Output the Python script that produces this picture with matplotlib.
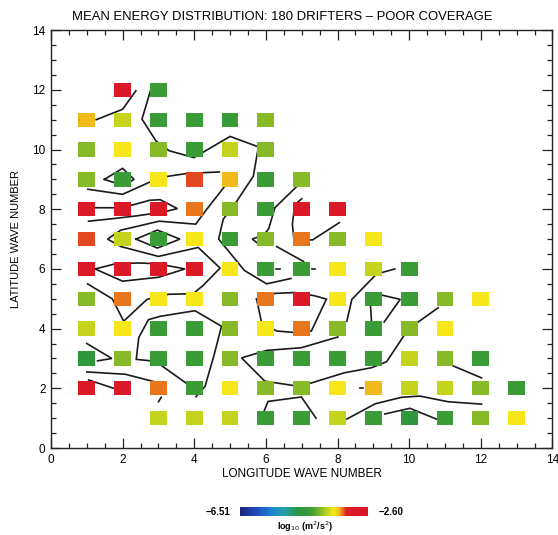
import numpy as np
import matplotlib
matplotlib.use('Agg')
import matplotlib.pyplot as plt
from matplotlib.colors import LinearSegmentedColormap, Normalize
from matplotlib.patches import Rectangle
from matplotlib.ticker import MultipleLocator

plt.rcParams['font.family'] = ['Liberation Sans', 'DejaVu Sans']

# energy levels (log10 m^2/s^2) used for the grid cells
RED, ORNRED, ORANGE, GOLD = -2.95, -3.32, -3.38, -3.50
YEL, YELGRN, LTGRN, GRN, DKGRN = -3.66, -3.85, -4.05, -4.36, -4.63

VMIN, VMAX = -6.51, -2.60

# one list per latitude wave number: (longitude wave number, log10 energy)
row12 = [(2, RED), (3, GRN)]
row11 = [(1, GOLD), (2, YELGRN), (3, GRN), (4, GRN), (5, GRN), (6, LTGRN)]
row10 = [(1, LTGRN), (2, YEL), (3, LTGRN), (4, GRN), (5, YELGRN), (6, LTGRN)]
row9 = [(1, LTGRN), (2, GRN), (3, YEL), (4, ORNRED), (5, GOLD), (6, GRN), (7, LTGRN)]
row8 = [(1, RED), (2, RED), (3, RED), (4, ORANGE), (5, LTGRN), (6, GRN),
        (7, RED), (8, RED)]
row7 = [(1, ORNRED), (2, YELGRN), (3, GRN), (4, YEL), (5, GRN), (6, LTGRN),
        (7, ORANGE), (8, LTGRN), (9, YEL)]
row6 = [(1, RED), (2, RED), (3, RED), (4, RED), (5, YEL), (6, GRN), (7, GRN),
        (8, YEL), (9, YELGRN), (10, GRN)]
row5 = [(1, LTGRN), (2, ORANGE), (3, YEL), (4, YEL), (5, LTGRN), (6, ORANGE),
        (7, RED), (8, YEL), (9, GRN), (10, GRN), (11, LTGRN), (12, YEL)]
row4 = [(1, YELGRN), (2, YEL), (3, GRN), (4, GRN), (5, LTGRN), (6, YEL),
        (7, ORANGE), (8, LTGRN), (9, GRN), (10, LTGRN), (11, YEL)]
row3 = [(1, DKGRN), (2, LTGRN), (3, GRN), (4, GRN), (5, LTGRN), (6, GRN),
        (7, GRN), (8, GRN), (9, GRN), (10, YELGRN), (11, LTGRN), (12, GRN)]
row2 = [(1, RED), (2, RED), (3, ORANGE), (4, GRN), (5, YEL), (6, LTGRN),
        (7, LTGRN), (8, YEL), (9, GOLD), (10, YELGRN), (11, YELGRN),
        (12, LTGRN), (13, GRN)]
row1 = [(3, YELGRN), (4, YELGRN), (5, YELGRN), (6, GRN), (7, GRN), (8, YELGRN),
        (9, GRN), (10, DKGRN), (11, GRN), (12, LTGRN), (13, YEL)]

rows = {12: row12, 11: row11, 10: row10, 9: row9, 8: row8, 7: row7,
        6: row6, 5: row5, 4: row4, 3: row3, 2: row2, 1: row1}

# energy contours (longitude, latitude)
contours = [
    [(1.26, 11.0), (2.0, 11.35), (2.37, 11.97)],
    [(2.79, 12.02), (2.54, 11.02), (2.93, 10.29), (3.30, 9.96), (3.99, 9.73),
     (5.0, 10.44), (5.79, 10.09), (5.65, 9.11), (5.16, 8.22), (4.81, 7.67),
     (4.68, 7.0), (5.14, 6.33), (5.4, 5.95), (6.02, 5.5), (6.7, 5.68)],
    [(4.87, 8.8), (4.35, 8.0), (4.04, 7.5), (3.02, 7.6), (1.95, 7.3), (1.58, 7.0),
     (1.95, 6.75), (3.0, 6.42), (4.11, 6.72), (4.72, 6.03), (4.25, 5.45),
     (3.97, 5.17), (3.28, 5.15), (2.68, 4.98), (2.03, 4.25), (1.71, 5.0),
     (1.02, 5.5)],
    [(1.23, 6.0), (1.79, 6.17), (2.44, 6.2), (3.0, 6.17), (3.74, 6.0), (3.0, 5.72),
     (2.0, 5.59), (1.23, 6.0)],
    [(1.03, 8.67), (2.0, 8.5), (2.74, 8.9), (3.25, 9.1), (3.8, 9.2), (4.7, 9.25)],
    [(1.25, 8.05), (1.8, 8.05), (2.3, 8.15), (2.75, 8.3), (3.05, 8.32), (3.53, 8.02),
     (3.1, 7.9), (2.4, 7.78), (1.77, 7.69), (1.05, 7.6)],
    [(1.49, 9.0), (2.0, 9.37), (2.32, 9.0), (2.0, 8.8), (1.49, 9.0)],
    [(2.37, 7.0), (2.97, 7.3), (3.6, 7.0), (2.97, 6.7), (2.37, 7.0)],
    [(4.05, 1.72), (4.3, 2.06), (4.55, 3.1), (4.76, 4.08), (4.02, 4.6), (3.04, 4.41),
     (2.72, 4.3), (2.45, 3.7), (2.38, 2.97), (2.8, 2.92), (3.1, 2.75), (3.8, 2.15)],
    [(1.0, 3.5), (1.7, 3.0), (1.3, 2.92)],
    [(1.0, 2.55), (2.08, 2.47), (2.95, 2.2)],
    [(1.05, 2.28), (1.75, 2.0)],
    [(3.0, 1.55), (3.08, 1.7)],
    [(5.74, 4.99), (6.25, 5.18), (6.81, 5.21), (7.36, 5.1), (7.69, 4.99), (7.27, 3.92),
     (6.81, 3.87), (6.3, 3.92), (5.88, 4.2), (5.74, 4.99)],
    [(8.01, 3.72), (6.99, 3.36), (6.02, 3.27), (5.32, 3.02), (5.97, 2.24), (6.9, 2.07),
     (7.27, 2.18), (8.19, 2.52), (8.95, 2.69), (9.37, 2.89), (9.84, 3.74)],
    [(5.92, 1.15), (6.06, 1.56), (6.99, 1.71), (7.4, 1.0)],
    [(6.3, 6.75), (7.05, 6.25)],
    [(6.28, 6.0), (6.38, 6.0)],
    [(7.28, 6.0), (7.38, 6.0)],
    [(8.26, 4.25), (8.4, 4.98), (9.09, 5.83), (9.6, 6.0)],
    [(8.92, 4.78), (8.95, 4.22)],
    [(9.25, 5.12), (9.75, 4.98), (9.3, 4.22)],
    [(10.25, 4.22), (10.81, 4.7)],
    [(11.23, 2.75), (12.02, 2.35)],
    [(8.62, 2.0), (8.72, 2.0)],
    [(8.26, 0.97), (9.05, 1.48), (9.79, 1.7), (10.3, 1.74), (11.09, 1.55), (12.02, 1.47)],
    [(9.32, 1.14), (10.02, 1.33), (10.76, 0.97)],
    [(6.8, 8.1), (6.74, 7.5), (6.78, 7.0), (7.3, 6.97), (8.05, 7.55)],
    [(6.9, 8.25), (7.0, 8.35)],
    [(6.85, 8.75), (6.25, 8.05), (6.08, 7.35), (5.95, 7.15), (5.62, 7.0), (5.75, 6.88)],
]

# colour table: blue -> green -> yellow -> red
cmap = LinearSegmentedColormap.from_list('energy', [
    (0.00, '#1c2676'),
    (0.12, '#1f48bc'),
    (0.25, '#1d86d2'),
    (0.35, '#22a2a6'),
    (0.45, '#2b9440'),
    (0.55, '#3a9c36'),
    (0.62, '#79b52c'),
    (0.68, '#c2d21e'),
    (0.73, '#f7e71a'),
    (0.77, '#f2c01a'),
    (0.80, '#e8761c'),
    (0.83, '#dc2024'),
    (1.00, '#d81428'),
])
norm = Normalize(VMIN, VMAX)

fig = plt.figure(figsize=(5.58, 5.35), dpi=100)
ax = fig.add_axes([0.0914, 0.1626, 0.8986, 0.781])

for lat, cells in rows.items():
    for lon, val in cells:
        ax.add_patch(Rectangle((lon - 0.235, lat - 0.24), 0.47, 0.48,
                               facecolor=cmap(norm(val)), edgecolor='none',
                               zorder=3))

for line in contours:
    xs, ys = zip(*line)
    ax.plot(xs, ys, color='#1a1a1a', lw=1.2, zorder=2,
            solid_joinstyle='miter')

ax.set_xlim(0, 14)
ax.set_ylim(0, 14)
ax.xaxis.set_major_locator(MultipleLocator(2))
ax.xaxis.set_minor_locator(MultipleLocator(0.5))
ax.yaxis.set_major_locator(MultipleLocator(2))
ax.yaxis.set_minor_locator(MultipleLocator(0.5))
ax.tick_params(which='both', direction='in', top=True, right=True,
               width=0.9, color='#222222')
ax.tick_params(which='major', length=7, labelsize=8.5, pad=4)
ax.tick_params(which='minor', length=3.5)
for s in ax.spines.values():
    s.set_linewidth(1.0)
    s.set_color('#222222')

ax.set_xlabel('LONGITUDE WAVE NUMBER', fontsize=8.5, labelpad=2)
ax.set_ylabel('LATITUDE WAVE NUMBER', fontsize=8, labelpad=8)
fig.text(0.505, 0.968, 'MEAN ENERGY DISTRIBUTION: 180 DRIFTERS \u2013 POOR COVERAGE',
         ha='center', va='center', fontsize=9.4)

# colour bar
cax = fig.add_axes([0.431, 1 - 516 / 535, 0.229, 9 / 535])
sm = plt.cm.ScalarMappable(norm=norm, cmap=cmap)
cb = fig.colorbar(sm, cax=cax, orientation='horizontal')
cb.set_ticks([])
cb.outline.set_visible(False)
fig.text(218 / 558, 1 - 512 / 535, '\u22126.51', ha='center', va='center',
         fontsize=7, fontweight='bold')
fig.text(391 / 558, 1 - 512 / 535, '\u22122.60', ha='center', va='center',
         fontsize=7, fontweight='bold')
fig.text(305 / 558, 1 - 527 / 535, r'log$_{10}$ (m$^2$/s$^2$)', ha='center',
         va='center', fontsize=6.5, fontweight='bold')

fig.savefig('out.png', dpi=100)
